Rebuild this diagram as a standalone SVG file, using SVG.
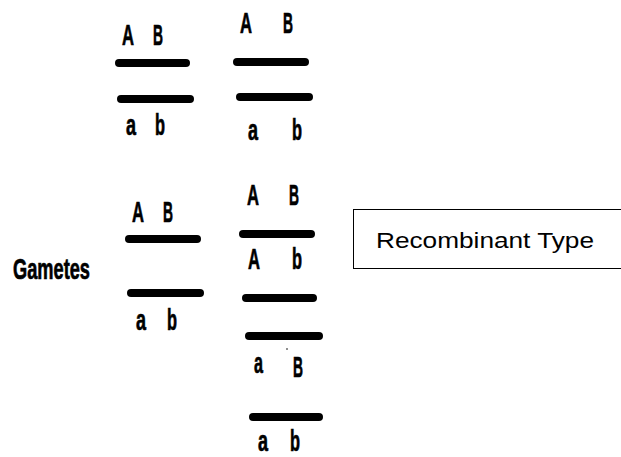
<svg xmlns="http://www.w3.org/2000/svg" width="621" height="457" viewBox="0 0 621 457">
  <style>
    .bar { stroke: #000; stroke-width: 8; stroke-linecap: round; fill: none; }
    .g { font-family: "Liberation Sans", Arial, sans-serif; font-weight: bold; font-size: 30px; fill: #000; stroke: #000; stroke-width: 0.7; }
    .lbl { font-family: "Liberation Sans", Arial, sans-serif; font-size: 22px; fill: #000; }
  </style>
  <rect width="621" height="457" fill="#fff"/>

  <!-- parental chromosome pair, left -->
  <g id="parent-left">
    <text class="g" x="122" y="45" textLength="12" lengthAdjust="spacingAndGlyphs">A</text>
    <text class="g" x="153" y="45" textLength="10" lengthAdjust="spacingAndGlyphs">B</text>
    <line class="bar" x1="119" y1="63" x2="186" y2="63"/>
    <line class="bar" x1="121" y1="99" x2="190" y2="99"/>
    <text class="g" x="126" y="135" textLength="10" lengthAdjust="spacingAndGlyphs">a</text>
    <text class="g" x="155" y="135" textLength="10" lengthAdjust="spacingAndGlyphs">b</text>
  </g>

  <!-- parental chromosome pair, right -->
  <g id="parent-right">
    <text class="g" x="240" y="33" textLength="12" lengthAdjust="spacingAndGlyphs">A</text>
    <text class="g" x="283" y="33" textLength="10" lengthAdjust="spacingAndGlyphs">B</text>
    <line class="bar" x1="237" y1="62" x2="305" y2="62"/>
    <line class="bar" x1="240" y1="97" x2="309" y2="97"/>
    <text class="g" x="248" y="140" textLength="10" lengthAdjust="spacingAndGlyphs">a</text>
    <text class="g" x="292" y="140" textLength="10" lengthAdjust="spacingAndGlyphs">b</text>
  </g>

  <g id="gametes-label">
    <text class="g" x="13" y="279" font-size="31" textLength="77" lengthAdjust="spacingAndGlyphs">Gametes</text>
  </g>

  <!-- parental-type gametes -->
  <g id="gametes-parental">
    <text class="g" x="132" y="222" textLength="12" lengthAdjust="spacingAndGlyphs">A</text>
    <text class="g" x="163" y="222" textLength="10" lengthAdjust="spacingAndGlyphs">B</text>
    <line class="bar" x1="129" y1="239" x2="197" y2="239"/>
    <line class="bar" x1="131" y1="293" x2="200" y2="293"/>
    <text class="g" x="136" y="330" textLength="10" lengthAdjust="spacingAndGlyphs">a</text>
    <text class="g" x="167" y="330" textLength="10" lengthAdjust="spacingAndGlyphs">b</text>
  </g>

  <!-- crossover gametes -->
  <g id="gametes-crossover">
    <text class="g" x="247" y="205" textLength="12" lengthAdjust="spacingAndGlyphs">A</text>
    <text class="g" x="289" y="205" textLength="10" lengthAdjust="spacingAndGlyphs">B</text>
    <line class="bar" x1="243" y1="234" x2="311" y2="234"/>
    <text class="g" x="248" y="269" textLength="12" lengthAdjust="spacingAndGlyphs">A</text>
    <text class="g" x="292" y="269" textLength="10" lengthAdjust="spacingAndGlyphs">b</text>
    <line class="bar" x1="246" y1="298" x2="313" y2="298"/>
    <line class="bar" x1="249" y1="336" x2="319" y2="336"/>
    <circle cx="287" cy="349" r="0.8" fill="#000"/>
    <text class="g" x="254" y="373" textLength="9" lengthAdjust="spacingAndGlyphs">a</text>
    <text class="g" x="293" y="377" textLength="10" lengthAdjust="spacingAndGlyphs">B</text>
    <line class="bar" x1="253" y1="417" x2="319" y2="417"/>
    <text class="g" x="258" y="451" textLength="10" lengthAdjust="spacingAndGlyphs">a</text>
    <text class="g" x="290" y="451" textLength="10" lengthAdjust="spacingAndGlyphs">b</text>
  </g>

  <g id="recombinant-type">
    <rect x="353.5" y="209.5" width="280" height="59" fill="none" stroke="#000" stroke-width="1"/>
    <text class="lbl" x="376" y="248" textLength="218" lengthAdjust="spacingAndGlyphs">Recombinant Type</text>
  </g>
</svg>
